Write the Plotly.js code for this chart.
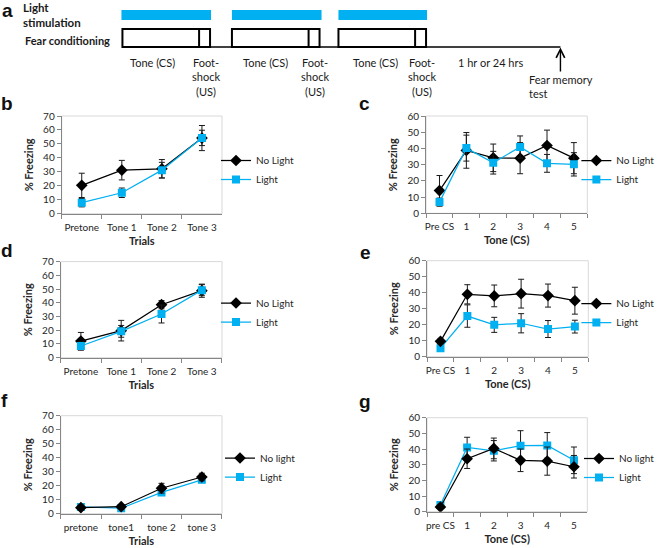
<!DOCTYPE html>
<html><head><meta charset="utf-8">
<script src="https://cdn.plot.ly/plotly-3.0.1.min.js"></script>
<style>html,body{margin:0;padding:0;background:#fff}#chart{width:660px;height:548px}</style>
</head><body><div id="chart"></div><script>
// ---- data ----
const catsB = ["Pretone", "Tone 1", "Tone 2", "Tone 3"];
const bNoLight = [20.3, 31.2, 32.2, 54.2];
const bNoLightErr = [8.7, 7.0, 6.6, 9.0];
const bLight = [7.9, 15.0, 31.2, 54.3];
const bLightErr = [3.0, 3.4, 5.6, 5.5];

const catsC = ["Pre CS", "1", "2", "3", "4", "5"];
const cNoLight = [14.0, 38.8, 34.2, 34.0, 41.8, 34.0];
const cNoLightErr = [9.3, 11.0, 8.5, 9.6, 9.5, 9.6];
const cLight = [6.9, 40.2, 31.2, 40.9, 30.8, 30.2];
const cLightErr = [2.5, 8.0, 7.0, 6.8, 5.5, 7.2];

const catsD = ["Pretone", "Tone 1", "Tone 2", "Tone 3"];
const dNoLight = [12.1, 19.7, 38.6, 48.8];
const dNoLightErr = [6.3, 7.5, 3.0, 4.8];
const dLight = [8.5, 19.2, 31.8, 49.2];
const dLightErr = [3.0, 4.3, 6.5, 4.0];

const catsE = ["Pre CS", "1", "2", "3", "4", "5"];
const eNoLight = [9.6, 39.0, 38.0, 39.4, 38.2, 35.0];
const eNoLightErr = [1.5, 6.0, 6.8, 9.0, 7.2, 8.4];
const eLight = [5.3, 25.4, 19.9, 20.9, 17.3, 18.8];
const eLightErr = [1.2, 7.0, 4.7, 6.0, 5.3, 4.0];

const catsF = ["pretone", "tone1", "tone 2", "tone 3"];
const fNoLight = [4.3, 5.0, 18.2, 26.2];
const fNoLightErr = [1.0, 1.2, 3.5, 2.7];
const fLight = [4.8, 3.9, 15.2, 24.2];
const fLightErr = [1.5, 1.0, 2.0, 2.0];

const catsG = ["pre CS", "1", "2", "3", "4", "5"];
const gNoLight = [3.0, 33.8, 40.4, 32.8, 32.3, 28.7];
const gNoLightErr = [1.0, 6.2, 6.6, 7.2, 9.0, 7.2];
const gLight = [4.3, 41.0, 38.9, 42.1, 42.3, 32.8];
const gLightErr = [1.0, 6.5, 6.5, 9.6, 8.2, 8.5];

const seriesNamesUpper = ["No Light", "Light"];
const seriesNamesLower = ["No light", "Light"];

// ---- layout helpers ----
const W = 660, H = 548;
const px = x => x / W;
const py = y => 1 - y / H;
const FONT = "Lato, 'Open Sans', sans-serif";
const BLUE = "#00b0f0";
const AXC = "#868686";
const TXT = "#262626";

const panels = [
  {k:"", cats:catsB, nl:bNoLight, nle:bNoLightErr, l:bLight, le:bLightErr, names:seriesNamesUpper, ymax:70, xt:"Trials", box:[62,223,116,213.7], leg:[217,170], blueTop:true},
  {k:"2", cats:catsC, nl:cNoLight, nle:cNoLightErr, l:cLight, le:cLightErr, names:seriesNamesUpper, ymax:60, xt:"Tone (CS)", box:[428,590,116,213.3], leg:[579,170], blueTop:true},
  {k:"3", cats:catsD, nl:dNoLight, nle:dNoLightErr, l:dLight, le:dLightErr, names:seriesNamesUpper, ymax:70, xt:"Trials", box:[61,223,261.6,357.7], leg:[217,312.5], blueTop:true},
  {k:"4", cats:catsE, nl:eNoLight, nle:eNoLightErr, l:eLight, le:eLightErr, names:seriesNamesUpper, ymax:60, xt:"Tone (CS)", box:[429,591,260.7,356.7], leg:[579,313], blueTop:false},
  {k:"5", cats:catsF, nl:fNoLight, nle:fNoLightErr, l:fLight, le:fLightErr, names:seriesNamesLower, ymax:70, xt:"Trials", box:[61,223,415.7,513.7], leg:[221,467.5], blueTop:false},
  {k:"6", cats:catsG, nl:gNoLight, nle:gNoLightErr, l:gLight, le:gLightErr, names:seriesNamesLower, ymax:60, xt:"Tone (CS)", box:[429,590,417.7,511.7], leg:[582,468], blueTop:false}
];

const data = [];
const layout = {
  width: W, height: H,
  margin: {l:0, r:0, t:0, b:0},
  paper_bgcolor: "#fff", plot_bgcolor: "#fff",
  font: {family: FONT, color: TXT, size: 10},
  shapes: [], annotations: []
};

panels.forEach(p => {
  const xa = "x" + p.k, ya = "y" + p.k, lg = "legend" + p.k;
  const black = {
    type:"scatter", mode:"lines+markers", x:p.cats, y:p.nl, xaxis:xa, yaxis:ya, legend:lg,
    name:p.names[0], legendrank:1,
    line:{color:"#000", width:1.25},
    marker:{symbol:"diamond", size:9, color:"#000"},
    error_y:{type:"data", array:p.nle, visible:true, color:"#1a1a1a", thickness:1, width:3}
  };
  const blue = {
    type:"scatter", mode:"lines+markers", x:p.cats, y:p.l, xaxis:xa, yaxis:ya, legend:lg,
    name:p.names[1], legendrank:2,
    line:{color:BLUE, width:1.25},
    marker:{symbol:"square", size:8, color:BLUE},
    error_y:{type:"data", array:p.le, visible:true, color:"#1a1a1a", thickness:1, width:3}
  };
  if (p.blueTop) { data.push(black, blue); } else { data.push(blue, black); }

  const [x0, x1, yTop, yBot] = p.box;
  layout["xaxis" + p.k] = {
    domain:[px(x0), px(x1)], anchor:ya, type:"category",
    range:[-0.5, p.cats.length - 0.5], tickson:"boundaries", tickangle:0,
    ticks:"outside", ticklen:4, tickcolor:AXC, tickwidth:1, ticklabelstandoff:4,
    showline:true, linecolor:AXC, linewidth:1, showgrid:false, zeroline:false,
    tickfont:{size:10, color:TXT, family:FONT},
    title:{text:"<b>" + p.xt + "</b>", font:{size:11, color:TXT, family:FONT}, standoff:5},
    fixedrange:true
  };
  layout["yaxis" + p.k] = {
    domain:[py(yBot), py(yTop)], anchor:xa,
    range:[0, p.ymax], dtick:10, tick0:0,
    ticks:"outside", ticklen:4, tickcolor:AXC, tickwidth:1,
    showline:true, linecolor:AXC, linewidth:1, showgrid:false, zeroline:false,
    tickfont:{size:10, color:TXT, family:FONT},
    title:{text:"<b>% Freezing</b>", font:{size:11, color:TXT, family:FONT}, standoff:7},
    fixedrange:true
  };
  layout[lg] = {
    x:px(p.leg[0]), y:py(p.leg[1]), xanchor:"left", yanchor:"middle",
    bgcolor:"rgba(0,0,0,0)", borderwidth:0,
    font:{size:10, color:TXT, family:FONT}, itemwidth:30, tracegroupgap:0
  };
  layout.shapes.push({
    type:"rect", xref:xa + " domain", yref:ya + " domain", x0:0, x1:1, y0:0, y1:1,
    line:{color:"#d9d9d9", width:1}, layer:"below"
  });
});

// ---- panel letters ----
const letters = [["a",8,10],["b",7,103],["c",366,103],["d",7,250],["e",367,252],["f",5,400],["g",367,401]];
letters.forEach(([t,x,y]) => layout.annotations.push({
  text:"<b>" + t + "</b>", x:px(x), y:py(y), xref:"paper", yref:"paper",
  xanchor:"center", yanchor:"middle", showarrow:false,
  font:{family:"'Liberation Sans', Arial, sans-serif", size:19, color:"#111"}
}));

// ---- schematic (panel a) ----
const lightBars = [[122,212],[233,323],[340,429]];
lightBars.forEach(([a,b]) => layout.shapes.push({
  type:"rect", xref:"paper", yref:"paper", x0:px(a), x1:px(b), y0:py(20), y1:py(10),
  fillcolor:BLUE, line:{width:0}
}));
const trialBoxes = [[123,211,200],[233,321,310],[340,428,417]];
layout.shapes.push({type:"line", xref:"paper", yref:"paper", x0:px(123), x1:px(563), y0:py(47), y1:py(47), line:{color:"#000", width:1.5}});
trialBoxes.forEach(([a,b,d]) => {
  layout.shapes.push({type:"rect", xref:"paper", yref:"paper", x0:px(a), x1:px(b), y0:py(47), y1:py(29), fillcolor:"#fff", line:{color:"#000", width:2}});
  layout.shapes.push({type:"line", xref:"paper", yref:"paper", x0:px(d), x1:px(d), y0:py(47), y1:py(29), line:{color:"#000", width:2}});
});
layout.annotations.push({
  text:"", x:px(563), y:py(47.5), ax:px(563), ay:py(73), xref:"paper", yref:"paper", axref:"paper", ayref:"paper",
  showarrow:true, arrowhead:5, arrowsize:1.2, arrowwidth:1.4, arrowcolor:"#000"
});
const schemText = [
  ["<b>Light</b>", 21, 7, "left", 11.5],
  ["<b>stimulation</b>", 21, 22, "left", 11.5],
  ["<b>Fear conditioning</b>", 23, 40, "left", 11],
  ["Tone (CS)", 153, 62, "center", 11],
  ["Foot-<br>shock<br>(US)", 207, 77, "center", 11],
  ["Tone (CS)", 267, 62, "center", 11],
  ["Foot-<br>shock<br>(US)", 316, 77, "center", 11],
  ["Tone (CS)", 377, 62, "center", 11],
  ["Foot-<br>shock<br>(US)", 424, 77, "center", 11],
  ["1 hr or 24 hrs", 493, 62, "center", 11],
  ["Fear memory<br>test", 529, 87, "left", 11]
];
schemText.forEach(([t,x,y,al,fs]) => layout.annotations.push({
  text:t, x:px(x), y:py(y), xref:"paper", yref:"paper", xanchor:al, yanchor:"middle",
  align:al, showarrow:false, font:{family:FONT, size:fs, color:"#1a1a1a"}
}));

Plotly.newPlot("chart", data, layout, {staticPlot:true, displayModeBar:false});
</script></body></html>
